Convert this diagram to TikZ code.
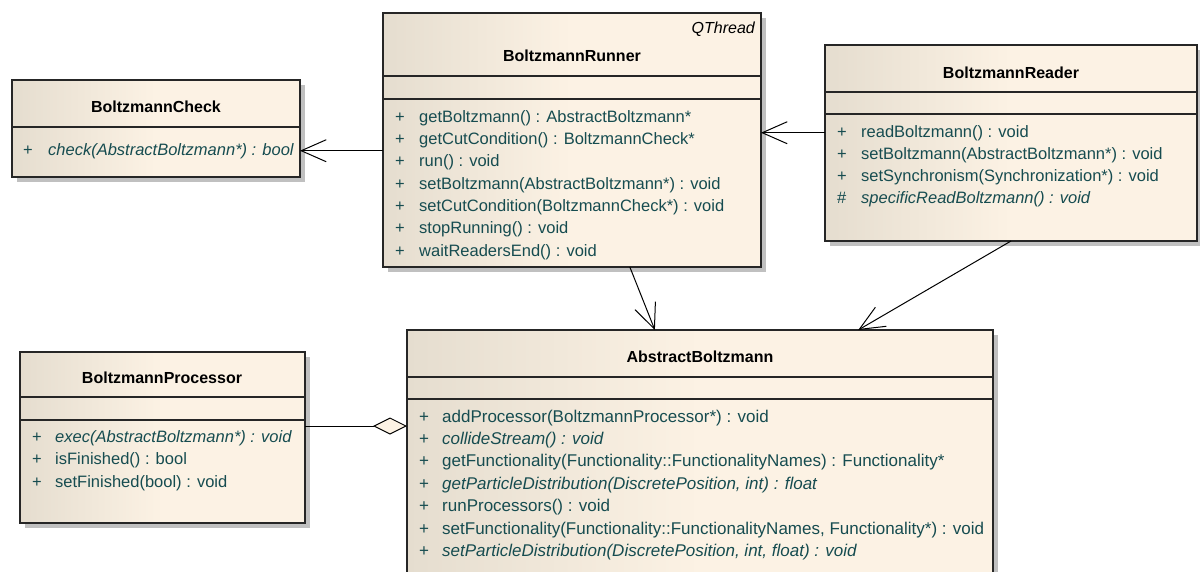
\documentclass[tikz,border=0pt]{standalone}
\usepackage{fontspec}
\setmainfont{Liberation Sans}
\usetikzlibrary{arrows.meta,shadows,calc}
\definecolor{clsdark}{RGB}{229,221,207}
\definecolor{clslight}{RGB}{252,242,228}
\definecolor{optext}{RGB}{22,76,80}
\definecolor{clsshadow}{RGB}{192,192,192}
\pgfdeclarehorizontalshading{clsfill}{100bp}{color(0bp)=(clsdark); color(25bp)=(clsdark); color(50bp)=(clslight); color(100bp)=(clslight)}
\newcommand{\umlsize}{\fontsize{16}{19}\selectfont}
\newcommand{\opsize}{\fontsize{16.5}{20}\selectfont}
\tikzset{
  cls/.style={draw=black!85, line width=1.2pt, shading=clsfill, anchor=north west,
    inner sep=0pt, outer sep=0pt,
    drop shadow={shadow xshift=5pt, shadow yshift=-5pt, fill=clsshadow, opacity=1}},
  clsname/.style={font=\umlsize\bfseries, anchor=base, inner sep=0pt},
  op/.style={font=\opsize, text=optext, anchor=base west, inner sep=0pt},
  wideop/.style={op, font=\fontsize{17}{20}\selectfont},
  sep/.style={line width=1.2pt, draw=black!85},
  assoc/.style={line width=1pt, -{Straight Barb[length=25pt,width=22pt]}},
  aggr/.style={line width=1pt, {Diamond[length=34pt,width=17pt,fill=clslight]}-},
}
\begin{document}
\begin{tikzpicture}[x=1pt, y=-1pt, font=\umlsize]
\useasboundingbox (0,0) rectangle (1200,571);

% BoltzmannCheck
\node[cls, minimum width=288pt, minimum height=97pt] (check) at (12,80) {};
\draw[sep] ($(check.north west)+(0,47)$) -- ($(check.north east)+(0,47)$);
\node[clsname] (checkname) at (156,112) {BoltzmannCheck};
\node[op] (checkop0) at (23,155) {\makebox[25pt][l]{+}\textit{check(AbstractBoltzmann*) : bool}};

% BoltzmannRunner
\node[cls, minimum width=378pt, minimum height=254pt] (runner) at (383,13) {};
\draw[sep] ($(runner.north west)+(0,63)$) -- ($(runner.north east)+(0,63)$);
\draw[sep] ($(runner.north west)+(0,86)$) -- ($(runner.north east)+(0,86)$);
\node[font=\umlsize\itshape, anchor=base east, inner sep=0pt] (runnerstereo) at (755,33) {QThread};
\node[clsname] (runnername) at (572,61) {BoltzmannRunner};
\foreach \vis/\op [count=\i from 0] in {+/{getBoltzmann() : AbstractBoltzmann*},
    +/{getCutCondition() : BoltzmannCheck*}, +/{run() : void},
    +/{setBoltzmann(AbstractBoltzmann*) : void},
    +/{setCutCondition(BoltzmannCheck*) : void},
    +/{stopRunning() : void}, +/{waitReadersEnd() : void}}
  \node[op] (runnerop\i) at (395,122+22.35*\i) {\makebox[24pt][l]{\vis}\op};

% BoltzmannReader
\node[cls, minimum width=372pt, minimum height=196pt] (reader) at (825,45) {};
\draw[sep] ($(reader.north west)+(0,47)$) -- ($(reader.north east)+(0,47)$);
\draw[sep] ($(reader.north west)+(0,69)$) -- ($(reader.north east)+(0,69)$);
\node[clsname] (readername) at (1011,78) {BoltzmannReader};
\foreach \vis/\op [count=\i from 0] in {+/{readBoltzmann() : void},
    +/{setBoltzmann(AbstractBoltzmann*) : void},
    +/{setSynchronism(Synchronization*) : void},
    \#/{\textit{specificReadBoltzmann() : void}}}
  \node[op] (readerop\i) at (837,137+22.2*\i) {\makebox[24pt][l]{\vis}\op};

% BoltzmannProcessor
\node[cls, minimum width=285pt, minimum height=171pt] (proc) at (20,352) {};
\draw[sep] ($(proc.north west)+(0,45)$) -- ($(proc.north east)+(0,45)$);
\draw[sep] ($(proc.north west)+(0,68)$) -- ($(proc.north east)+(0,68)$);
\node[clsname] (procname) at (162,383) {BoltzmannProcessor};
\foreach \vis/\op [count=\i from 0] in {+/{\textit{exec(AbstractBoltzmann*) : void}},
    +/{isFinished() : bool}, +/{setFinished(bool) : void}}
  \node[op] (procop\i) at (32,442+22.5*\i) {\makebox[23pt][l]{\vis}\op};

% AbstractBoltzmann
\node[cls, minimum width=586pt, minimum height=270pt] (absb) at (407,330) {};
\draw[sep] ($(absb.north west)+(0,47)$) -- ($(absb.north east)+(0,47)$);
\draw[sep] ($(absb.north west)+(0,69)$) -- ($(absb.north east)+(0,69)$);
\node[clsname] (absbname) at (700,362) {AbstractBoltzmann};
\foreach \vis/\op [count=\i from 0] in {+/{addProcessor(BoltzmannProcessor*) : void},
    +/{\textit{collideStream() : void}},
    +/{getFunctionality(Functionality::FunctionalityNames) : Functionality*},
    +/{\textit{getParticleDistribution(DiscretePosition, int) : float}},
    +/{runProcessors() : void},
    +/{setFunctionality(Functionality::FunctionalityNames, Functionality*) : void},
    +/{\textit{setParticleDistribution(DiscretePosition, int, float) : void}}}
  \node[wideop] (absbop\i) at (419,422+22.4*\i) {\makebox[23pt][l]{\vis}\op};

% relations
\coordinate (aggpt) at (0,426);
\draw[assoc] (runner.west |- checkop0) -- (check.east |- checkop0);
\draw[assoc] (reader.west |- readerop0) -- (runner.east |- readerop0);
\draw[assoc] ($(runner.south west)!.653!(runner.south east)$) -- ($(absb.north west)!.423!(absb.north east)$);
\draw[assoc] (reader.south) -- ($(absb.north west)!.77!(absb.north east)$);
\draw[aggr] (absb.west |- aggpt) -- (proc.east |- aggpt);

\end{tikzpicture}
\end{document}
